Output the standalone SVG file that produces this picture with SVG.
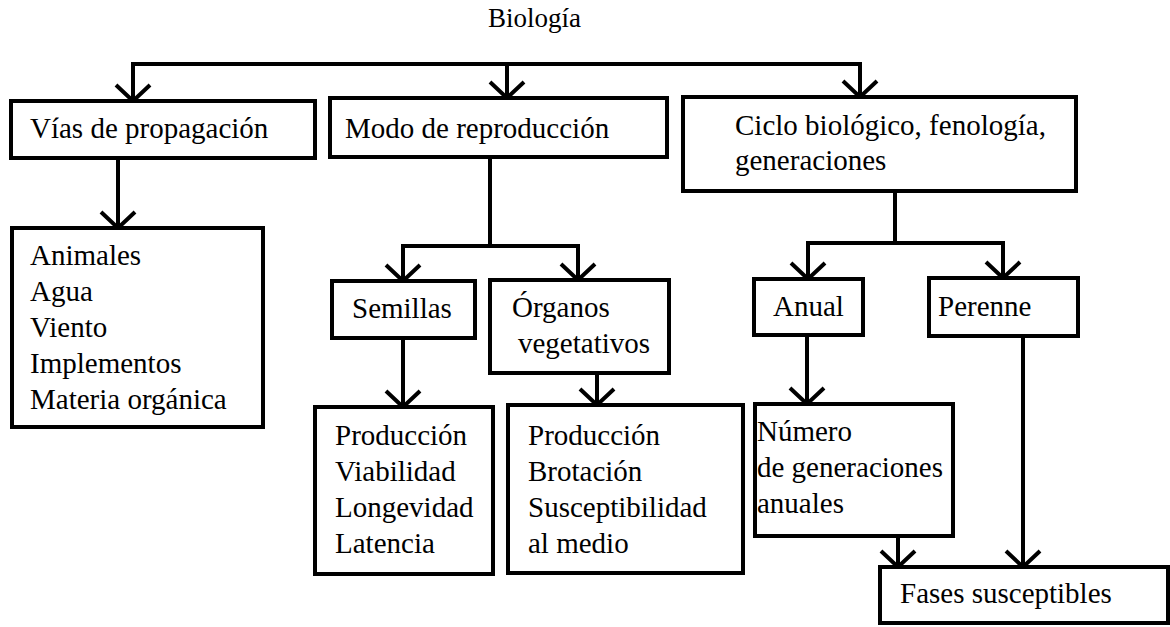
<svg xmlns="http://www.w3.org/2000/svg" width="1170" height="627" viewBox="0 0 1170 627">
  <style>
    .box { fill: #ffffff; stroke: #000000; stroke-width: 4; }
    .t { font-family: "Liberation Serif", "Times New Roman", serif; font-size: 29px; fill: #000000; }
    .title { font-family: "Liberation Serif", "Times New Roman", serif; font-size: 27px; fill: #000000; }
    .c { fill: none; stroke: #000000; stroke-width: 4; stroke-linejoin: miter; marker-end: url(#arr); }
    .cn { fill: none; stroke: #000000; stroke-width: 4; }
  </style>
  <defs>
    <marker id="arr" markerUnits="userSpaceOnUse" orient="auto" refX="0" refY="0" markerWidth="40" markerHeight="40" viewBox="-20 -20 40 40" overflow="visible">
      <path d="M-16,-17 L0,0 L-16,17" fill="none" stroke="#000000" stroke-width="4" stroke-linejoin="miter"/>
    </marker>
  </defs>
  <rect width="1170" height="627" fill="#ffffff"/>

  <g id="connectors">
    <path class="c" d="M507,64 H860 V97"/>
    <path class="c" d="M507,64 H133 V101"/>
    <path class="c" d="M507,64 V98"/>
    <path class="c" d="M118,158 V228"/>
    <path class="cn" d="M490,157 V246"/>
    <path class="c" d="M490,246 H403 V281"/>
    <path class="c" d="M490,246 H578 V280"/>
    <path class="c" d="M403,338 V407"/>
    <path class="c" d="M597,373 V405"/>
    <path class="cn" d="M895,191 V243"/>
    <path class="c" d="M895,243 H808 V279"/>
    <path class="c" d="M895,243 H1003 V278"/>
    <path class="c" d="M807,335 V404"/>
    <path class="c" d="M898,536 V567"/>
    <path class="c" d="M1023,336 V567"/>
  </g>

  <g id="title">
    <text class="title" x="488" y="27">Biología</text>
  </g>

  <g id="vias">
    <rect class="box" x="11" y="101" width="304" height="57"/>
    <text class="t" x="30" y="138">Vías de propagación</text>
  </g>
  <g id="modo">
    <rect class="box" x="330" y="98" width="337" height="59"/>
    <text class="t" x="345" y="138">Modo de reproducción</text>
  </g>
  <g id="ciclo">
    <rect class="box" x="683" y="97" width="393" height="94"/>
    <text class="t" x="735" y="135">Ciclo biológico, fenología,</text>
    <text class="t" x="735" y="170">generaciones</text>
  </g>
  <g id="medios">
    <rect class="box" x="12" y="228" width="251" height="199"/>
    <text class="t" x="30" y="265">Animales</text>
    <text class="t" x="30" y="301">Agua</text>
    <text class="t" x="30" y="337">Viento</text>
    <text class="t" x="30" y="373">Implementos</text>
    <text class="t" x="30" y="409">Materia orgánica</text>
  </g>
  <g id="semillas">
    <rect class="box" x="332" y="281" width="143" height="57"/>
    <text class="t" x="352" y="318">Semillas</text>
  </g>
  <g id="organos">
    <rect class="box" x="490" y="280" width="179" height="93"/>
    <text class="t" x="512" y="317">Órganos</text>
    <text class="t" x="518" y="353">vegetativos</text>
  </g>
  <g id="semillas-rasgos">
    <rect class="box" x="315" y="407" width="178" height="167"/>
    <text class="t" x="335" y="445">Producción</text>
    <text class="t" x="335" y="481">Viabilidad</text>
    <text class="t" x="335" y="517">Longevidad</text>
    <text class="t" x="335" y="553">Latencia</text>
  </g>
  <g id="organos-rasgos">
    <rect class="box" x="508" y="405" width="235" height="168"/>
    <text class="t" x="528" y="445">Producción</text>
    <text class="t" x="528" y="481">Brotación</text>
    <text class="t" x="528" y="517">Susceptibilidad</text>
    <text class="t" x="528" y="553">al medio</text>
  </g>
  <g id="anual">
    <rect class="box" x="754" y="279" width="109" height="56"/>
    <text class="t" x="773" y="316">Anual</text>
  </g>
  <g id="perenne">
    <rect class="box" x="929" y="278" width="149" height="58"/>
    <text class="t" x="938" y="316">Perenne</text>
  </g>
  <g id="numero">
    <rect class="box" x="755" y="404" width="198" height="132"/>
    <text class="t" x="757" y="441">Número</text>
    <text class="t" x="757" y="477">de generaciones</text>
    <text class="t" x="757" y="513">anuales</text>
  </g>
  <g id="fases">
    <rect class="box" x="880" y="567" width="288" height="56"/>
    <text class="t" x="900" y="603">Fases susceptibles</text>
  </g>
</svg>
